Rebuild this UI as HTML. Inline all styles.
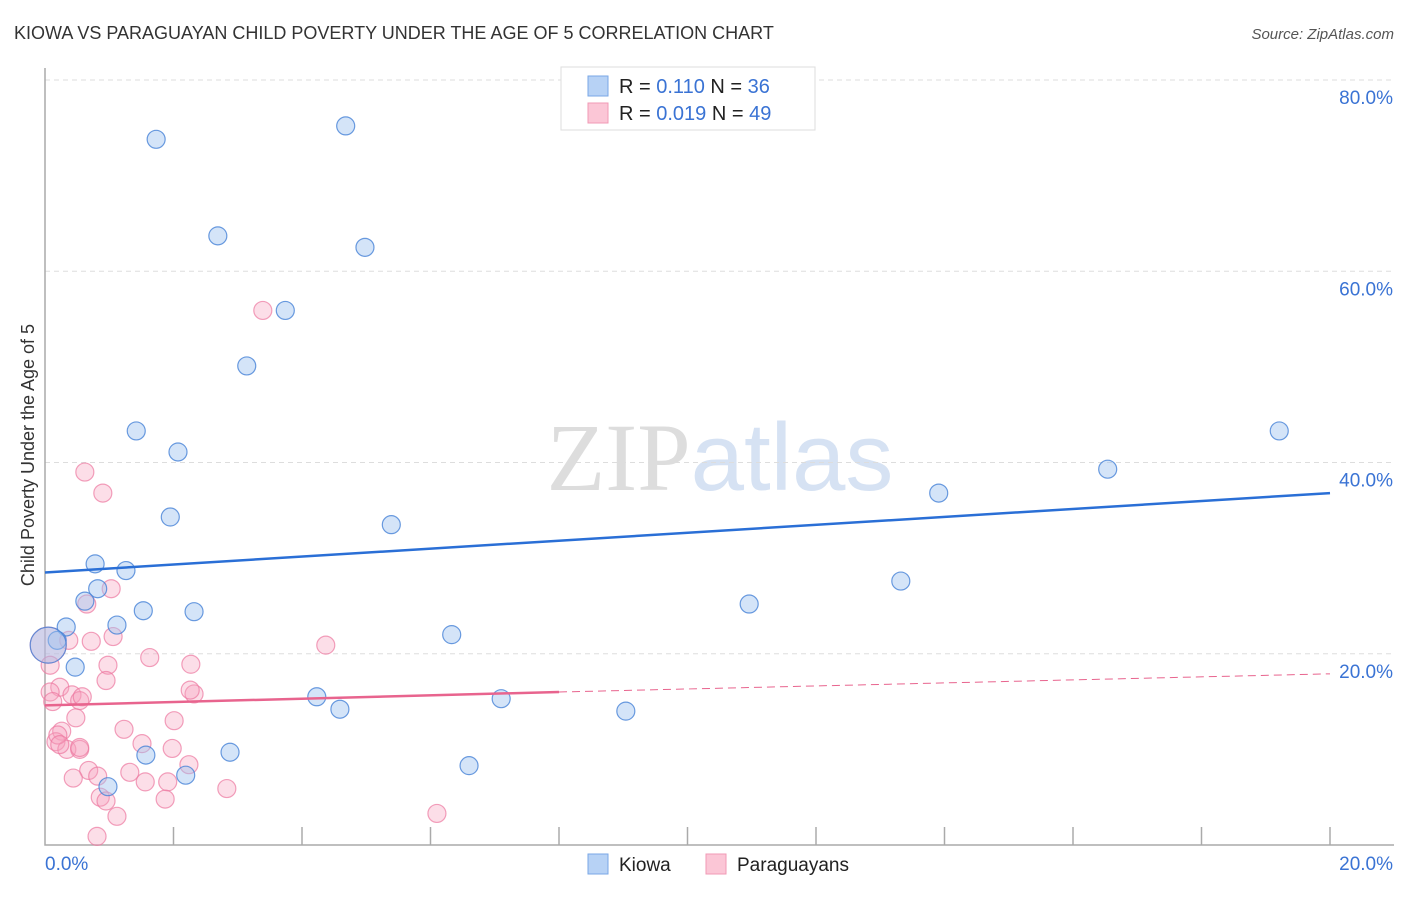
<!DOCTYPE html>
<html><head><meta charset="utf-8"><style>
body{margin:0;background:#fff;font-family:"Liberation Sans",sans-serif;}
svg text{font-family:"Liberation Sans",sans-serif;}
</style></head><body>
<svg id="chart" width="1406" height="892" xmlns="http://www.w3.org/2000/svg">
<text x="14" y="39" font-size="18" fill="#333">KIOWA VS PARAGUAYAN CHILD POVERTY UNDER THE AGE OF 5 CORRELATION CHART</text>
<text x="1394" y="39" font-size="15" fill="#555" text-anchor="end" font-style="italic">Source: ZipAtlas.com</text>
<text x="720" y="490" font-size="96" text-anchor="middle"><tspan fill="#ddd" font-family="Liberation Serif">ZIP</tspan><tspan fill="#d6e2f3">atlas</tspan></text>
<g id="grid"></g>
<g id="axes"></g>
<g id="points"></g>
<g id="lines"></g>
<text transform="translate(34,455) rotate(-90)" font-size="18" fill="#333" text-anchor="middle">Child Poverty Under the Age of 5</text>
<g>
<rect x="561" y="67" width="254" height="63" fill="#fff" stroke="#ddd"/>
<rect x="588" y="76" width="20" height="20" fill="#b7d2f5" stroke="#7aa7e6"/>
<rect x="588" y="103" width="20" height="20" fill="#fbc6d6" stroke="#f09ab5"/>
<text x="619" y="93" font-size="20" fill="#222">R = <tspan fill="#3a73d4"> 0.110</tspan>   N = <tspan fill="#3a73d4">36</tspan></text>
<text x="619" y="120" font-size="20" fill="#222">R = <tspan fill="#3a73d4">0.019</tspan>   N = <tspan fill="#3a73d4">49</tspan></text>
</g>
<g>
<rect x="588" y="854" width="20" height="20" fill="#b7d2f5" stroke="#7aa7e6"/>
<text x="619" y="871" font-size="19" fill="#222">Kiowa</text>
<rect x="706" y="854" width="20" height="20" fill="#fbc6d6" stroke="#f09ab5"/>
<text x="737" y="871" font-size="19" fill="#222">Paraguayans</text>
</g>
</svg>
<script>
const kiowaX=[1.73,4.68,2.69,4.98,3.74,3.14,1.42,2.07,1.95,5.39,0.78,1.26,0.82,0.62,1.53,2.32,1.12,0.33,0.19,0.05,0.47,6.33,10.96,4.23,4.59,7.10,9.04,1.57,2.88,2.19,6.60,0.98,13.91,13.32,16.54,19.21];
const kiowaY=[73.8,75.2,63.7,62.5,55.9,50.1,43.3,41.1,34.3,33.5,29.4,28.7,26.8,25.5,24.5,24.4,23.0,22.8,21.4,20.9,18.6,22.0,25.2,15.5,14.2,15.3,14.0,9.4,9.7,7.3,8.3,6.1,36.8,27.6,39.3,43.3];
const paraX=[3.39,0.62,0.90,1.03,0.65,1.06,0.72,0.37,0.05,0.08,0.98,4.37,1.63,2.27,0.95,0.23,0.08,0.42,2.32,0.54,0.48,2.01,1.23,0.26,0.17,1.51,0.34,0.54,1.98,2.24,0.68,1.32,0.82,1.56,1.91,2.83,0.86,0.95,1.87,1.12,6.10,0.81,0.12,0.54,2.26,0.58,0.20,0.23,0.44];
const paraY=[55.9,39.0,36.8,26.8,25.2,21.8,21.3,21.4,20.9,18.8,18.8,20.9,19.6,18.9,17.2,16.5,16.0,15.7,15.8,15.1,13.3,13.0,12.1,11.9,10.8,10.6,10.0,10.0,10.1,8.4,7.8,7.6,7.2,6.6,6.6,5.9,5.0,4.6,4.8,3.0,3.3,0.9,15.0,10.2,16.2,15.5,11.5,10.5,7.0];
const kiowaTrend=[28.5,36.8];
const paraTrend=[14.6,16.0,17.9];
const yTicks=[20,40,60,80];
const NS='http://www.w3.org/2000/svg';
const X=v=>45+v/20*1285, Y=v=>845-v*9.5625;
function mk(tag,attrs,parent){const e=document.createElementNS(NS,tag);for(const k in attrs)e.setAttribute(k,attrs[k]);document.getElementById(parent).appendChild(e);return e;}
yTicks.forEach(t=>{
 const l=mk('line',{x1:45,x2:1394,y1:Y(t),y2:Y(t),stroke:'#ddd','stroke-dasharray':'5,4'},'grid');
 
 
 const tx=mk('text',{x:1393,y:Y(t)+24,'font-size':19,fill:'#3a73d4','text-anchor':'end'},'grid');
 tx.textContent=t.toFixed(1)+'%';
 
 
});
const ax=mk('path',{d:'M45,68V845H1394',fill:'none',stroke:'#aaa','stroke-width':1.5},'axes');


for(let i=1;i<=10;i++){
 const t=mk('line',{x1:X(i*2),x2:X(i*2),y1:827,y2:845,stroke:'#aaa','stroke-width':1.5},'axes');
 
 
}
const xl0=mk('text',{x:45,y:870,'font-size':19,fill:'#3a73d4'},'axes');xl0.textContent='0.0%';


const xl1=mk('text',{x:1393,y:870,'font-size':19,fill:'#3a73d4','text-anchor':'end'},'axes');xl1.textContent='20.0%';


paraX.forEach((x,i)=>{
 const c=mk('circle',{cx:X(x),cy:Y(paraY[i]),r:(i===8?18:9),fill:'rgba(247,160,188,0.35)',stroke:'rgba(236,120,160,0.7)','stroke-width':1.2},'points');
 
 
});
kiowaX.forEach((x,i)=>{
 const c=mk('circle',{cx:X(x),cy:Y(kiowaY[i]),r:(i===19?18:9),fill:'rgba(160,195,240,0.45)',stroke:'rgba(70,130,215,0.8)','stroke-width':1.2},'points');
 
 
});
const bl=mk('line',{x1:X(0),y1:Y(kiowaTrend[0]),x2:X(20),y2:Y(kiowaTrend[1]),stroke:'#2a6fd6','stroke-width':2.5},'lines');


const pl=mk('line',{x1:X(0),y1:Y(paraTrend[0]),x2:X(8),y2:Y(paraTrend[1]),stroke:'#e8648e','stroke-width':2.5},'lines');


const pd=mk('line',{x1:X(8),y1:Y(paraTrend[1]),x2:X(20),y2:Y(paraTrend[2]),stroke:'#e8648e','stroke-width':1,'stroke-dasharray':'8,5'},'lines');


</script>
</body></html>
